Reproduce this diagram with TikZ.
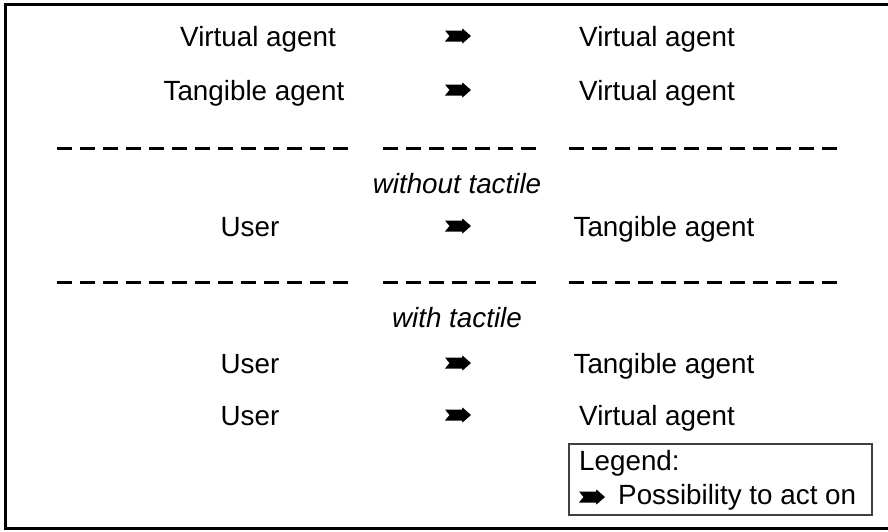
\documentclass[tikz,border=0pt]{standalone}
\usepackage{fontspec}
\setmainfont{Liberation Sans}
\begin{document}
\begin{tikzpicture}[x=1pt,y=-1pt,
    txt/.style={anchor=base,inner sep=0pt,font=\fontsize{27.8}{32}\selectfont},
    sepline/.style={line width=3pt,dash pattern=on 15pt off 8pt},
    actarrow/.pic={\fill (-13,-5.5) -- (4,-5.5) -- (4.5,-7.5) -- (13,0) -- (4.5,7.5) -- (4,5.5) -- (-13,5.5) -- (-8.5,0) -- cycle;}]
    \useasboundingbox (0,0) rectangle (888,531);

    % Frame (its right side lies outside the page)
    \draw[line width=3pt] (900,4.5) -- (5.5,4.5) -- (5.5,528.5) -- (900,528.5);

    % Separators
    \foreach \y in {148,282} {
        \draw[sepline] (57,\y) -- (348,\y);
        \draw[sepline] (383,\y) -- (536,\y);
        \draw[sepline] (569,\y) -- (837,\y);
    }

    % Agents acting on agents
    \node[txt] (virtA) at (258,46) {Virtual agent};
    \node[txt] (virtB) at (657,46) {Virtual agent};
    \node[txt] (tangA) at (254,100) {Tangible agent};
    \node[txt] (virtC) at (657,100) {Virtual agent};

    % User without tactile
    \node[txt] (notact) at (457,193) {\itshape without tactile};
    \node[txt] (userA) at (250,236) {User};
    \node[txt] (tangB) at (664,236) {Tangible agent};

    % User with tactile
    \node[txt] (withtact) at (457,327) {\itshape with tactile};
    \node[txt] (userB) at (250,373) {User};
    \node[txt] (tangC) at (664,373) {Tangible agent};
    \node[txt] (userC) at (250,425) {User};
    \node[txt] (virtD) at (657,425) {Virtual agent};

    % Arrows
    \foreach \y in {36,90,226,363,415} {
        \pic at (458,\y) {actarrow};
    }

    % Legend
    \draw[black!75, line width=1.5pt] (569,444) rectangle (872,515);
    \node[txt, anchor=base west] (legtitle) at (579,470) {Legend:};
    \pic at (592,497) {actarrow};
    \node[txt, anchor=base west] (legtext) at (618,504) {Possibility to act on};
\end{tikzpicture}
\end{document}
